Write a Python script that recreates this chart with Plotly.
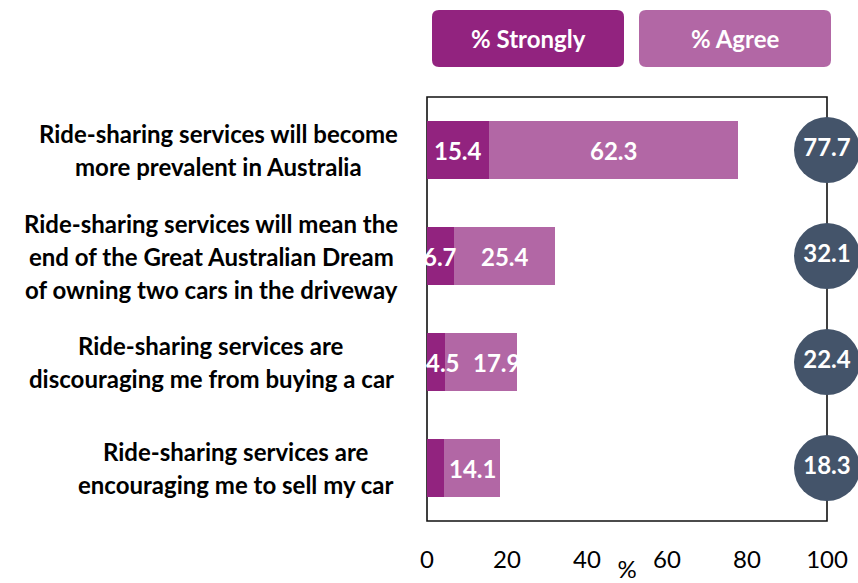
import plotly.graph_objects as go

# Survey statements (one list of display lines per statement)
statement_lines = [
    ["Ride-sharing services will become", "more prevalent in Australia"],
    ["Ride-sharing services will mean the", "end of the Great Australian Dream",
     "of owning two cars in the driveway"],
    ["Ride-sharing services are", "discouraging me from buying a car"],
    ["Ride-sharing services are", "encouraging me to sell my car"],
]
statements = [" ".join(lines) for lines in statement_lines]

strongly = [15.4, 6.7, 4.5, 4.2]
agree = [62.3, 25.4, 17.9, 14.1]
x_ticks = [0, 20, 40, 60, 80, 100]

totals = [round(s + a, 1) for s, a in zip(strongly, agree)]

C_STRONG = "#92237F"
C_AGREE = "#B267A5"
C_TOTAL = "#44546A"
FONT = "Lato"
FS = 24

W, H = 858, 583
ML, MR, MT, MB = 427, 31, 97, 62
PW, PH = W - ML - MR, H - MT - MB

# horizontal nudges (px) that keep crowded value labels apart
strong_nudge = [0, 0, 7, 0]
agree_nudge = [0, 0, 16, 0]

fig = go.Figure()
fig.add_trace(go.Bar(
    y=statements, x=strongly, orientation="h", name="% Strongly",
    marker=dict(color=C_STRONG, line=dict(width=0)), hoverinfo="skip",
))
fig.add_trace(go.Bar(
    y=statements, x=agree, orientation="h", name="% Agree",
    marker=dict(color=C_AGREE, line=dict(width=0)), hoverinfo="skip",
))
fig.add_trace(go.Scatter(
    y=statements, x=[100] * len(totals), mode="markers+text",
    marker=dict(color=C_TOTAL, size=66, line=dict(width=0)),
    text=[f"{v:.1f}" for v in totals], textposition="middle center",
    textfont=dict(family=FONT, size=FS, color="white", weight="bold"),
    cliponaxis=False, showlegend=False, hoverinfo="skip",
))

shapes = [dict(type="rect", xref="paper", yref="paper", x0=0, x1=1, y0=0, y1=1,
               line=dict(color="#111111", width=1.6), layer="below")]


def px_x(px):
    return (px - ML) / PW


def px_y(py):
    return (H - MB - py) / PH


def rounded_rect(x0, y0, x1, y1, r):
    # pixel box -> paper-space path with rounded corners
    rx, ry = r / PW, r / PH
    X0, X1 = px_x(x0), px_x(x1)
    Y0, Y1 = px_y(y1), px_y(y0)
    return (f"M {X0+rx},{Y0} L {X1-rx},{Y0} Q {X1},{Y0} {X1},{Y0+ry} "
            f"L {X1},{Y1-ry} Q {X1},{Y1} {X1-rx},{Y1} L {X0+rx},{Y1} "
            f"Q {X0},{Y1} {X0},{Y1-ry} L {X0},{Y0+ry} Q {X0},{Y0} {X0+rx},{Y0} Z")


annotations = []

# value labels on the bar segments
for stmt, s, a, ns, na in zip(statements, strongly, agree, strong_nudge, agree_nudge):
    if s >= 4.5:
        annotations.append(dict(
            xref="x", yref="y", x=s / 2, y=stmt, xshift=ns,
            text=f"<b>{s:.1f}</b>", showarrow=False,
            xanchor="center", yanchor="middle",
            font=dict(family=FONT, size=FS, color="white")))
    annotations.append(dict(
        xref="x", yref="y", x=s + a / 2, y=stmt, xshift=na,
        text=f"<b>{a:.1f}</b>", showarrow=False,
        xanchor="center", yanchor="middle",
        font=dict(family=FONT, size=FS, color="white")))

legend_boxes = [("% Strongly", C_STRONG, 432, 624), ("% Agree", C_AGREE, 639, 831)]
for label, color, bx0, bx1 in legend_boxes:
    shapes.append(dict(type="path", xref="paper", yref="paper",
                       path=rounded_rect(bx0, 10, bx1, 67, 7),
                       fillcolor=color, line=dict(width=0)))
    annotations.append(dict(xref="paper", yref="paper", x=px_x((bx0 + bx1) / 2),
                            y=px_y(39), text=f"<b>{label}</b>", showarrow=False,
                            xanchor="center", yanchor="middle",
                            font=dict(family=FONT, size=FS, color="white")))

# statement labels, each block centred on its own column left of the plot
block_centres = [218, 211, 211, 236]
LINE_GAP = 33
for stmt, lines, cx in zip(statements, statement_lines, block_centres):
    n = len(lines)
    for k, line in enumerate(lines):
        annotations.append(dict(
            xref="paper", yref="y", x=0, y=stmt, xshift=cx - ML,
            yshift=-(k - (n - 1) / 2) * LINE_GAP,
            text=f"<b>{line}</b>", showarrow=False,
            xanchor="center", yanchor="middle",
            font=dict(family=FONT, size=FS, color="#000000")))

fig.update_layout(
    width=W, height=H,
    margin=dict(l=ML, r=MR, t=MT, b=MB, pad=0, autoexpand=False),
    paper_bgcolor="white", plot_bgcolor="white",
    barmode="stack", bargap=0.45, showlegend=False,
    shapes=shapes, annotations=annotations,
    xaxis=dict(range=[0, 100], tickvals=x_ticks, ticks="", showgrid=False,
               zeroline=False, showline=False, fixedrange=True, automargin=False,
               ticklabelstandoff=22,
               tickfont=dict(family=FONT, size=FS, color="#000000"),
               title=dict(text="%", standoff=4,
                          font=dict(family=FONT, size=FS, color="#000000"))),
    yaxis=dict(range=[len(statements) - 0.5, -0.5], showticklabels=False,
               ticks="", showgrid=False, zeroline=False, showline=False,
               fixedrange=True, automargin=False),
)

fig.write_html("out.html")
